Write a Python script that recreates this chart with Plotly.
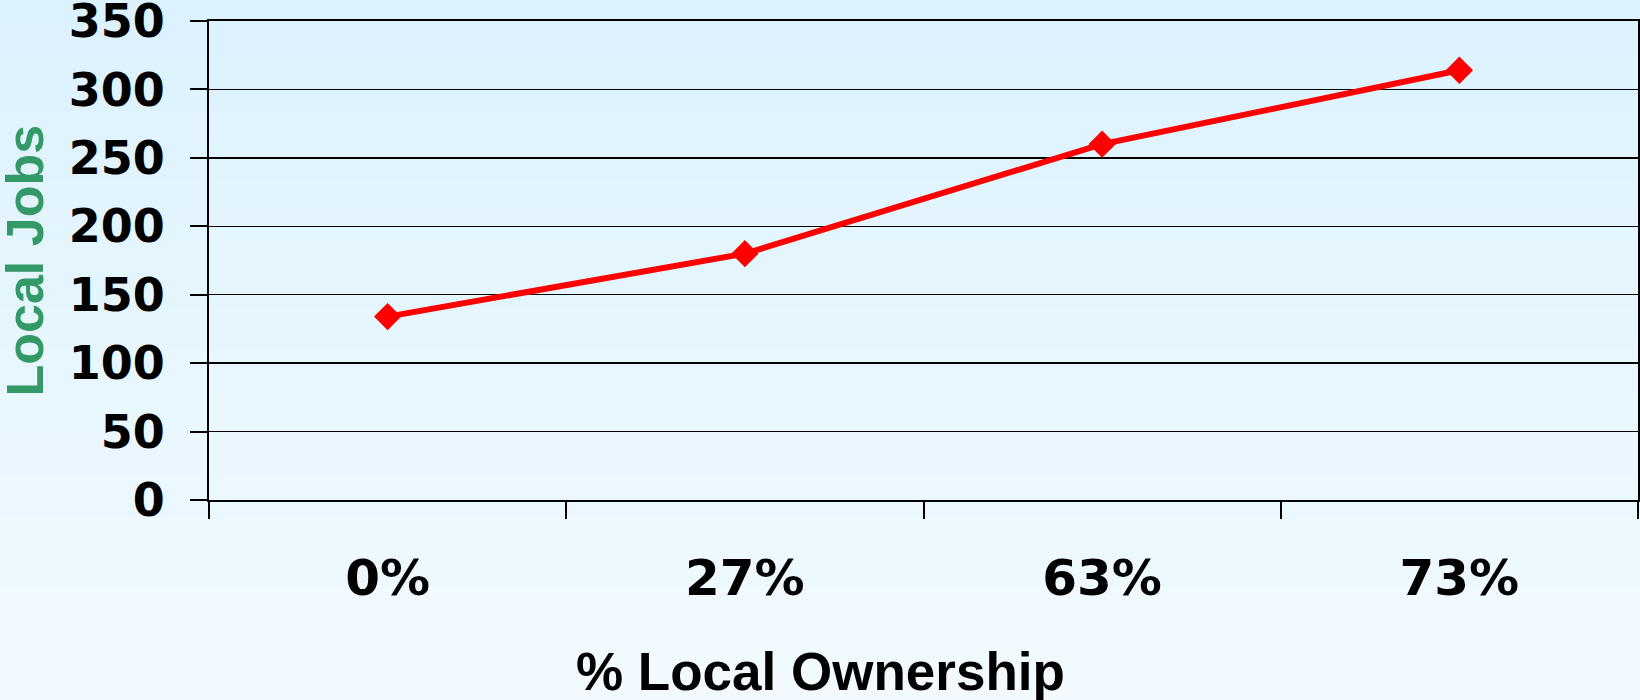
import plotly.graph_objects as go

categories = ["0%", "27%", "63%", "73%"]
local_jobs = [134, 180, 260, 314]
y_ticks = [0, 50, 100, 150, 200, 250, 300, 350]

W, H = 1640, 700
ML, MR, MT, MB = 209, 2, 21, 200
PW, PH = W - ML - MR, H - MT - MB

fig = go.Figure()
fig.add_trace(go.Scatter(
    x=categories, y=local_jobs, mode="lines+markers",
    line=dict(color="#ff0000", width=6),
    marker=dict(symbol="diamond", size=21, color="#ff0000"),
    showlegend=False, hoverinfo="skip",
))

# background vertical gradient (style only)
top_c = (220, 242, 254)
bot_c = (242, 250, 255)
n = 50
shapes = []
for i in range(n):
    t = i / (n - 1)
    c = tuple(round(top_c[k] + (bot_c[k] - top_c[k]) * t) for k in range(3))
    y0 = ((H - MB) - H * i / n) / PH
    y1 = ((H - MB) - H * (i + 1) / n) / PH
    shapes.append(dict(
        type="rect", xref="paper", yref="paper",
        x0=-ML / PW - 0.01, x1=1 + MR / PW + 0.01,
        y0=y0 + 0.002, y1=y1 - 0.002,
        fillcolor="rgb(%d,%d,%d)" % c, line=dict(width=0), layer="below",
    ))

fig.update_layout(
    width=W, height=H,
    margin=dict(l=ML, r=MR, t=MT, b=MB, autoexpand=False),
    paper_bgcolor="rgb(231,246,254)",
    plot_bgcolor="rgba(0,0,0,0)",
    shapes=shapes,
    xaxis=dict(
        type="category", range=[-0.5, 3.5], automargin=False,
        showline=True, linecolor="black", linewidth=2, mirror=True,
        ticks="outside", tickson="boundaries", ticklen=17, tickwidth=2, tickcolor="black",
        showgrid=False, zeroline=False,
        tickfont=dict(family="DejaVu Sans", size=50, color="black", weight="bold"),
        ticklabelstandoff=33,
    ),
    yaxis=dict(
        range=[0, 350], tickvals=y_ticks, automargin=False,
        showline=True, linecolor="black", linewidth=2, mirror=True,
        ticks="outside", ticklen=17, tickwidth=2, tickcolor="black",
        showgrid=True, gridcolor="black", gridwidth=1.5, zeroline=False,
        tickfont=dict(family="DejaVu Sans", size=46, color="black", weight="bold"),
        ticklabelstandoff=16, ticklabeloverflow="allow",
    ),
    annotations=[
        dict(text="% Local Ownership", xref="paper", yref="paper",
             x=(820 - ML) / PW, y=((H - MB) - 671) / PH,
             xanchor="center", yanchor="middle", showarrow=False,
             font=dict(family="Liberation Sans", size=53, color="black", weight="bold")),
        dict(text="Local Jobs", xref="paper", yref="paper",
             x=(24 - ML) / PW, y=0.5, textangle=-90,
             xanchor="center", yanchor="middle", showarrow=False,
             font=dict(family="Liberation Sans", size=52, color="#339966", weight="bold")),
    ],
)

fig.write_html(
    "out.html",
    config={"displayModeBar": False, "staticPlot": True},
    post_script="document.body.style.margin='0';document.body.style.overflow='hidden';",
)
